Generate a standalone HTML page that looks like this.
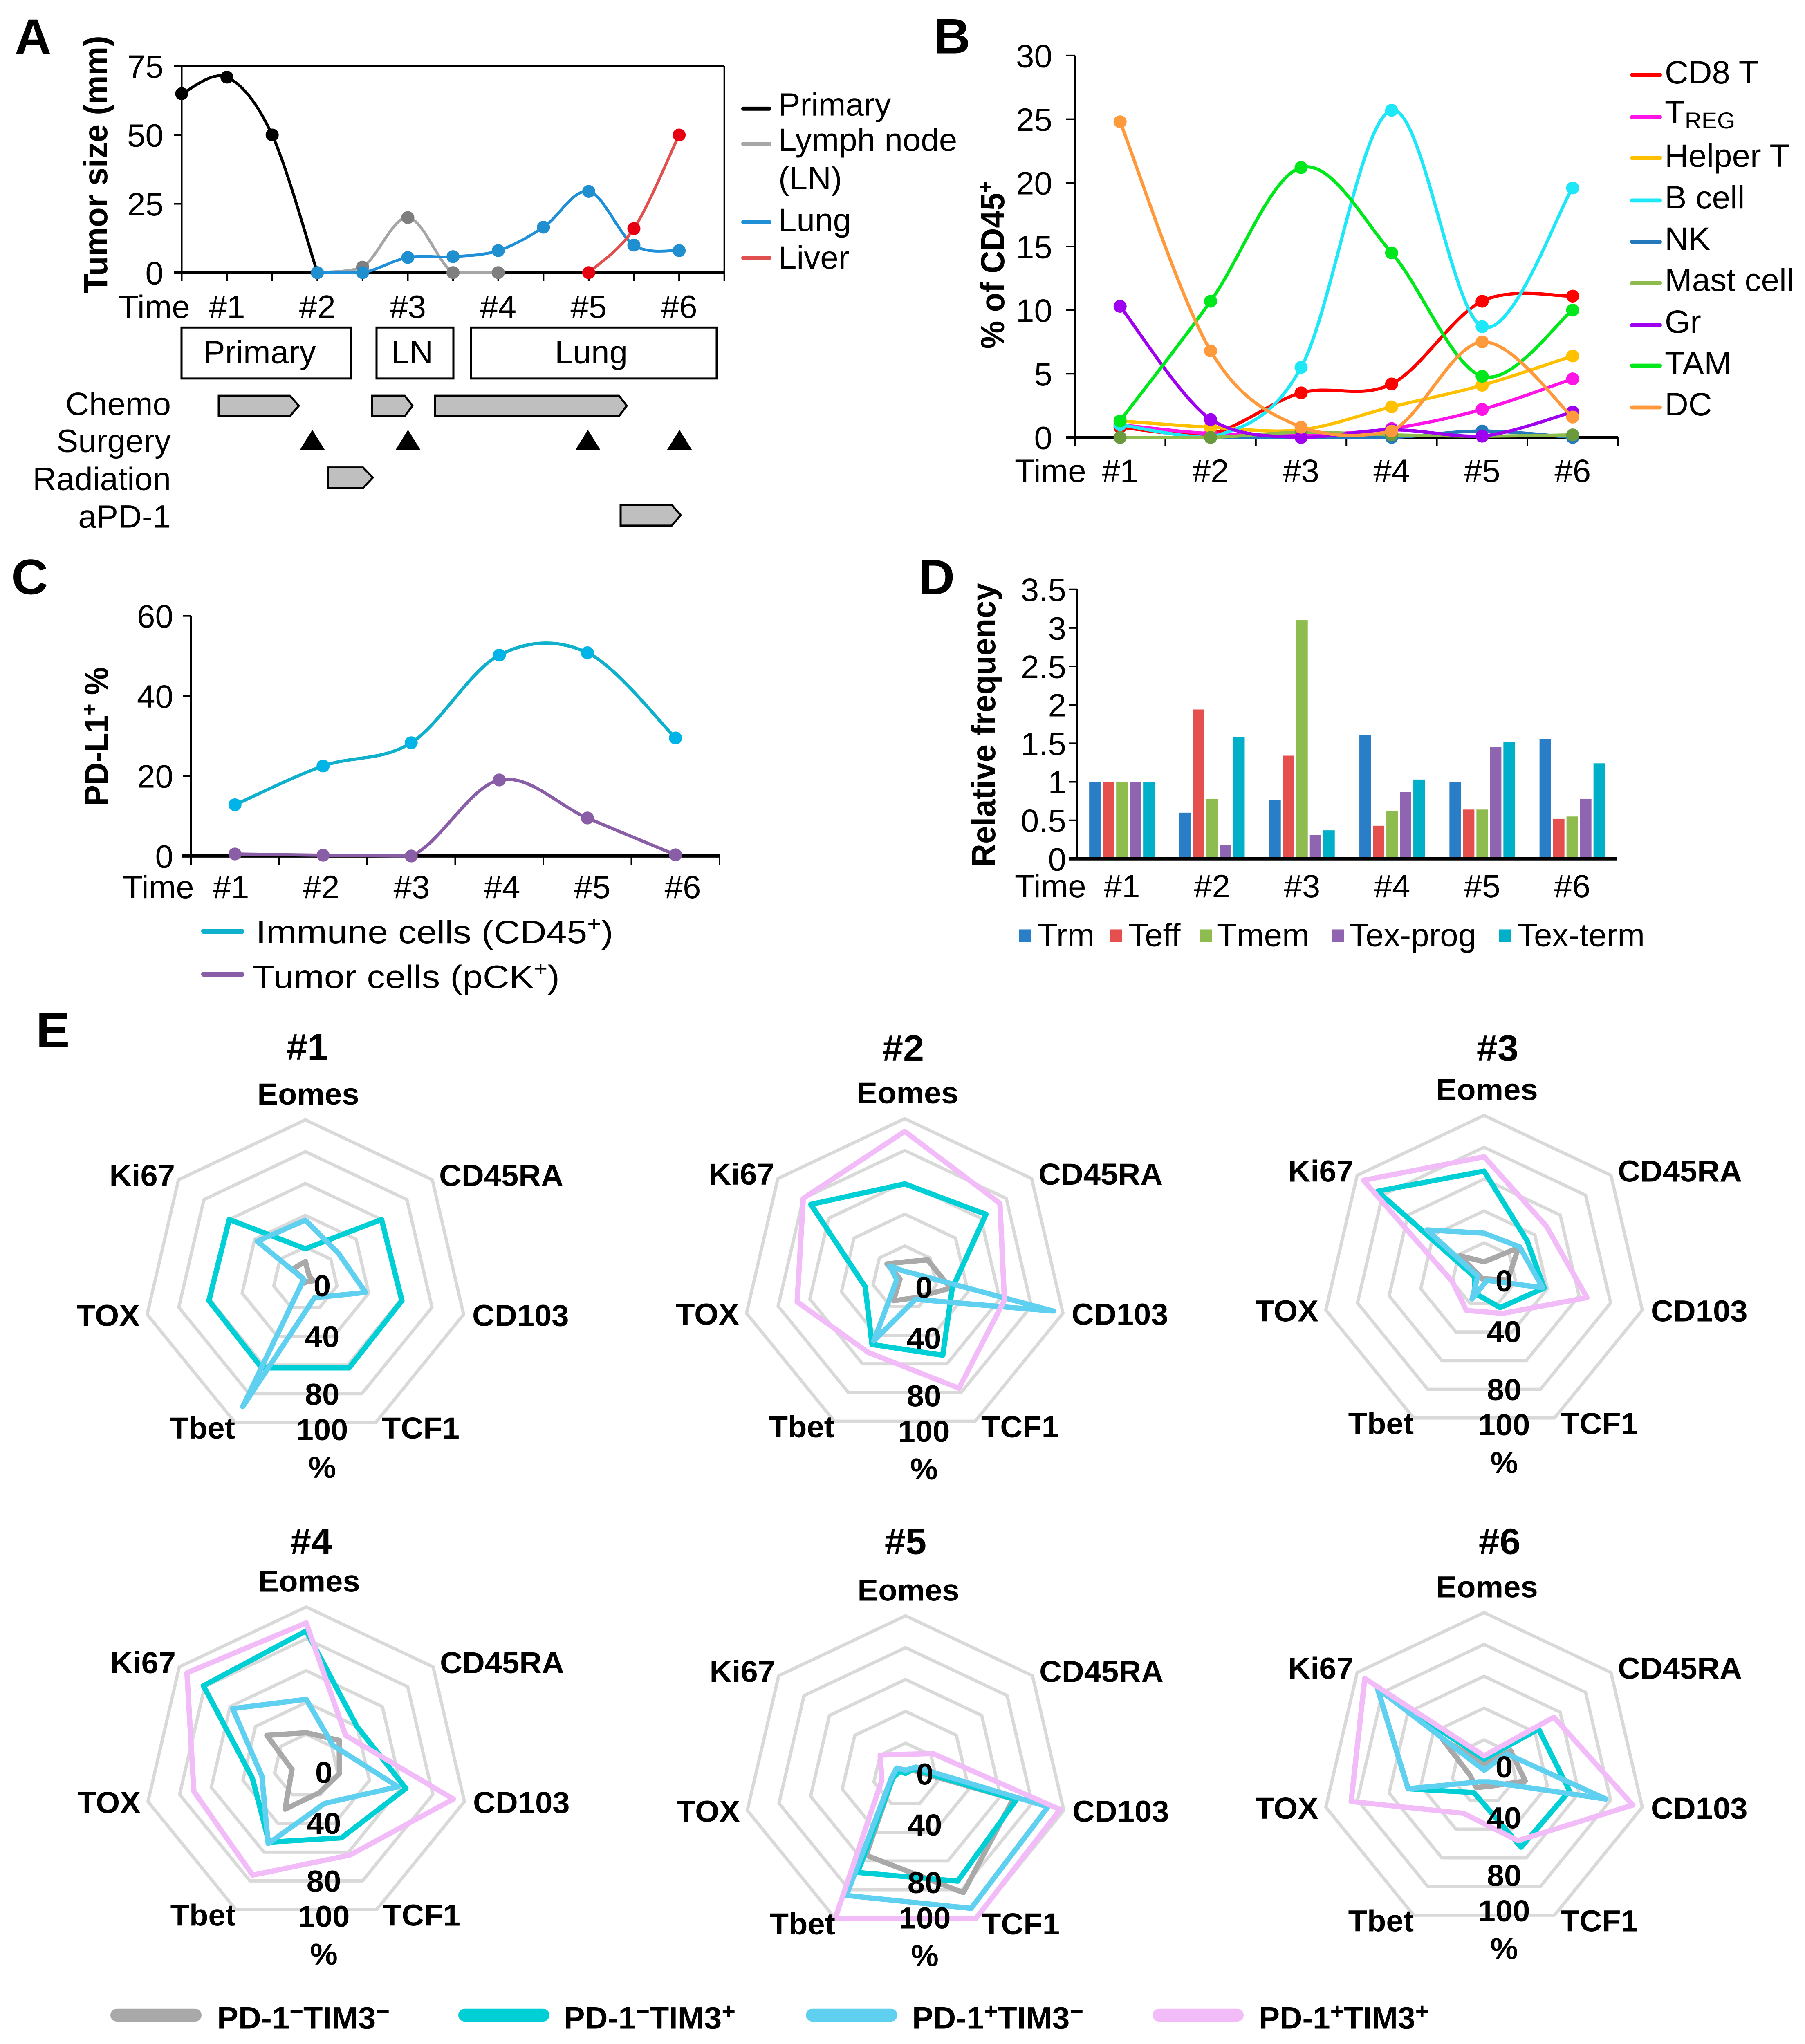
<!DOCTYPE html>
<html lang="en">
<head>
<meta charset="utf-8">
<title>Tumor, immune and T cell profiles over time</title>
<style>
html,body{margin:0;padding:0;background:#fff;width:100vw;height:100vh;overflow:hidden}
svg{display:block;position:absolute;left:0;top:0;width:100vw;height:100vh}
text{font-family:"Liberation Sans",Arial,sans-serif;fill:#000}
.t{font-size:80px}
.b{font-weight:bold}
.L{font-weight:bold;font-size:124px}
.r{text-anchor:end}
.m{text-anchor:middle}
</style>
</head>
<body>
<svg id="fig" xmlns="http://www.w3.org/2000/svg" viewBox="0 0 4415 5098" preserveAspectRatio="none">
<rect x="0" y="0" width="4415" height="5098" fill="#fff"/>

<text class="L" x="36" y="134">A</text>
<text class="L" x="2284" y="133">B</text>
<text class="L" x="28" y="1482">C</text>
<text class="L" x="2246" y="1482">D</text>
<text class="L" x="88" y="2612">E</text>

<!-- Panel A -->
<g id="panelA">
<text class="b" font-size="82" transform="translate(262,732) rotate(-90)" textLength="643" lengthAdjust="spacingAndGlyphs">Tumor size (mm)</text>
<text class="t" x="290" y="793">Time</text>
<g>
<line x1="1818" x2="1882" y1="271" y2="271" stroke="#000" stroke-width="10" stroke-linecap="round"/>
<text class="t" x="1904" y="288">Primary</text>
<line x1="1818" x2="1882" y1="359" y2="359" stroke="#a6a6a6" stroke-width="10" stroke-linecap="round"/>
<text class="t" x="1904" y="376">Lymph node</text>
<text class="t" x="1904" y="472">(LN)</text>
<line x1="1818" x2="1882" y1="554" y2="554" stroke="#1f8fd8" stroke-width="10" stroke-linecap="round"/>
<text class="t" x="1904" y="576">Lung</text>
<line x1="1818" x2="1882" y1="643" y2="643" stroke="#e0504e" stroke-width="10" stroke-linecap="round"/>
<text class="t" x="1904" y="670">Liver</text>
</g>
<g fill="none" stroke="#000" stroke-width="5">
<rect x="444" y="817" width="414" height="127"/>
<rect x="921" y="817" width="188" height="127"/>
<rect x="1152" y="817" width="601" height="127"/>
</g>
<text class="t m" x="635" y="906">Primary</text>
<text class="t m" x="1008" y="906">LN</text>
<text class="t m" x="1446" y="906">Lung</text>
<text class="t r" x="418" y="1035">Chemo</text>
<text class="t r" x="418" y="1127">Surgery</text>
<text class="t r" x="418" y="1222">Radiation</text>
<text class="t r" x="418" y="1316">aPD-1</text>
<g fill="#bfbfbf" stroke="#000" stroke-width="5">
<polygon points="535,987 709,987 731,1012 709,1038 535,1038"/>
<polygon points="910,987 990,987 1009,1012 990,1038 910,1038"/>
<polygon points="1064,987 1514,987 1533,1012 1514,1038 1064,1038"/>
<polygon points="802,1166 888,1166 912,1191 888,1217 802,1217"/>
<polygon points="1518,1259 1643,1259 1665,1285 1643,1311 1518,1311"/>
</g>
<g fill="#000">
<polygon points="764,1072 795,1123 733,1123"/>
<polygon points="998,1072 1029,1123 967,1123"/>
<polygon points="1438,1072 1469,1123 1407,1123"/>
<polygon points="1662,1072 1693,1123 1631,1123"/>
</g>
</g>

<!-- Panel B -->
<g id="panelB">
<text class="b" font-size="82" transform="translate(2456,870) rotate(-90)" textLength="418" lengthAdjust="spacingAndGlyphs">% of CD45<tspan font-size="52" dy="-28">+</tspan></text>
<text class="t" x="2482" y="1202">Time</text>
<g stroke-width="10" stroke-linecap="round">
<line x1="3992" x2="4060" y1="187" y2="187" stroke="#ff0000"/>
<text class="t" x="4072" y="208">CD8 T</text>
<line x1="3992" x2="4060" y1="292" y2="292" stroke="#ff14e8"/>
<text class="t" x="4072" y="308">T<tspan font-size="57" dy="12">REG</tspan></text>
<line x1="3992" x2="4060" y1="394" y2="394" stroke="#ffc000"/>
<text class="t" x="4072" y="416">Helper T</text>
<line x1="3992" x2="4060" y1="500" y2="500" stroke="#1ee8f8"/>
<text class="t" x="4072" y="520">B cell</text>
<line x1="3992" x2="4060" y1="603" y2="603" stroke="#2478bc"/>
<text class="t" x="4072" y="623">NK</text>
<line x1="3992" x2="4060" y1="706" y2="706" stroke="#8dbb4c"/>
<text class="t" x="4072" y="726">Mast cell</text>
<line x1="3992" x2="4060" y1="811" y2="811" stroke="#a000f0"/>
<text class="t" x="4072" y="830">Gr</text>
<line x1="3992" x2="4060" y1="912" y2="912" stroke="#00e81c"/>
<text class="t" x="4072" y="934">TAM</text>
<line x1="3992" x2="4060" y1="1016" y2="1016" stroke="#ff9a3c"/>
<text class="t" x="4072" y="1036">DC</text>
</g>
</g>

<!-- Panel C -->
<g id="panelC">
<text class="b" font-size="82" transform="translate(264,2010) rotate(-90)" textLength="346" lengthAdjust="spacingAndGlyphs">PD-L1<tspan font-size="52" dy="-28">+</tspan><tspan dy="28"> %</tspan></text>
<text class="t" x="300" y="2240">Time</text>
<line x1="498" x2="592" y1="2323" y2="2323" stroke="#0eb0cc" stroke-width="12" stroke-linecap="round"/>
<text class="t" x="626" y="2352" textLength="874" lengthAdjust="spacingAndGlyphs">Immune cells (CD45<tspan font-size="52" dy="-30">+</tspan><tspan dy="30">)</tspan></text>
<line x1="498" x2="592" y1="2430" y2="2430" stroke="#8a5ea6" stroke-width="12" stroke-linecap="round"/>
<text class="t" x="617" y="2464" textLength="752" lengthAdjust="spacingAndGlyphs">Tumor cells (pCK<tspan font-size="52" dy="-30">+</tspan><tspan dy="30">)</tspan></text>
</g>

<!-- Panel D -->
<g id="panelD">
<text class="b" font-size="82" transform="translate(2434,2162) rotate(-90)" textLength="708" lengthAdjust="spacingAndGlyphs">Relative frequency</text>
<text class="t" x="2482" y="2238">Time</text>
<g>
<rect x="2492" y="2318" width="30" height="32" fill="#2a7ec8"/>
<text class="t" x="2538" y="2360">Trm</text>
<rect x="2715" y="2318" width="30" height="32" fill="#e5504f"/>
<text class="t" x="2760" y="2360">Teff</text>
<rect x="2934" y="2318" width="30" height="32" fill="#8fbc4f"/>
<text class="t" x="2976" y="2360">Tmem</text>
<rect x="3258" y="2318" width="30" height="32" fill="#8f64b0"/>
<text class="t" x="3300" y="2360">Tex-prog</text>
<rect x="3666" y="2318" width="30" height="32" fill="#00b0c8"/>
<text class="t" x="3712" y="2360">Tex-term</text>
</g>
</g>

<!-- Panel E -->
<g id="panelE"></g>
<g>
<line x1="286" x2="477" y1="5026" y2="5026" stroke="#a9a9a9" stroke-width="32" stroke-linecap="round"/>
<text class="b" font-size="78" x="531" y="5060" textLength="422" lengthAdjust="spacingAndGlyphs">PD-1<tspan font-size="58" dy="-24">−</tspan><tspan dy="24">TIM3</tspan><tspan font-size="58" dy="-24">−</tspan></text>
<line x1="1137" x2="1328" y1="5026" y2="5026" stroke="#00d0d6" stroke-width="32" stroke-linecap="round"/>
<text class="b" font-size="78" x="1379" y="5060" textLength="420" lengthAdjust="spacingAndGlyphs">PD-1<tspan font-size="58" dy="-24">−</tspan><tspan dy="24">TIM3</tspan><tspan font-size="58" dy="-24">+</tspan></text>
<line x1="1987" x2="2179" y1="5026" y2="5026" stroke="#5fd0f0" stroke-width="32" stroke-linecap="round"/>
<text class="b" font-size="78" x="2231" y="5060" textLength="419" lengthAdjust="spacingAndGlyphs">PD-1<tspan font-size="58" dy="-24">+</tspan><tspan dy="24">TIM3</tspan><tspan font-size="58" dy="-24">−</tspan></text>
<line x1="2835" x2="3026" y1="5026" y2="5026" stroke="#f2bcf9" stroke-width="32" stroke-linecap="round"/>
<text class="b" font-size="78" x="3079" y="5060" textLength="416" lengthAdjust="spacingAndGlyphs">PD-1<tspan font-size="58" dy="-24">+</tspan><tspan dy="24">TIM3</tspan><tspan font-size="58" dy="-24">+</tspan></text>
</g>
</svg>

<script>
/* ---------- Panel A data ---------- */
const aTimeLabels = ['#1', '#2', '#3', '#4', '#5', '#6'];
const aYTicks = [0, 25, 50, 75];
const aPrimary = [65, 71, 50, 0, null, null, null, null, null, null, null, null];
const aLymphNode = [null, null, null, 0, 2, 20, 0, 0, null, null, null, null];
const aLung = [null, null, null, 0, 0, 5.5, 5.8, 8, 16.5, 29.5, 10, 8];
const aLiver = [null, null, null, null, null, null, null, null, null, 0, 16, 50];

/* ---------- Panel B data ---------- */
const bTimeLabels = ['#1', '#2', '#3', '#4', '#5', '#6'];
const bYTicks = [0, 5, 10, 15, 20, 25, 30];
const bCd8 = [0.8, 0.3, 3.5, 4.2, 10.7, 11.1];
const bTreg = [1.0, 0.3, 0.2, 0.7, 2.2, 4.6];
const bHelper = [1.3, 0.8, 0.6, 2.4, 4.1, 6.4];
const bBCell = [1.0, 0, 5.5, 25.7, 8.7, 19.6];
const bNk = [0, 0, 0, 0, 0.5, 0];
const bMast = [0, 0, 0.4, 0.2, 0.1, 0.2];
const bGr = [10.3, 1.4, 0, 0.6, 0.1, 2.0];
const bTam = [1.3, 10.7, 21.2, 14.5, 4.8, 10.0];
const bDc = [24.8, 6.8, 0.8, 0.5, 7.5, 1.6];

/* ---------- Panel C data ---------- */
const cTimeLabels = ['#1', '#2', '#3', '#4', '#5', '#6'];
const cYTicks = [0, 20, 40, 60];
const cImmune = [12.8, 22.5, 28.3, 50.2, 50.8, 29.5];
const cTumor = [0.5, 0.2, 0, 19, 9.5, 0.3];

/* ---------- Panel D data ---------- */
const dTimeLabels = ['#1', '#2', '#3', '#4', '#5', '#6'];
const dYTicks = ['0', '0.5', '1', '1.5', '2', '2.5', '3', '3.5'];
const dTrm = [1, 0.6, 0.76, 1.61, 1.0, 1.56];
const dTeff = [1, 1.94, 1.34, 0.43, 0.64, 0.52];
const dTmem = [1, 0.78, 3.1, 0.62, 0.64, 0.55];
const dTexProg = [1, 0.18, 0.31, 0.87, 1.45, 0.78];
const dTexTerm = [1, 1.58, 0.37, 1.03, 1.52, 1.24];

/* ---------- Panel E data: six radars, seven axes each (percent) ---------- */
const radarTitles = ['#1', '#2', '#3', '#4', '#5', '#6'];
const radarAxes = ['Eomes', 'CD45RA', 'CD103', 'TCF1', 'Tbet', 'TOX', 'Ki67'];
const radarTickLabels = ['0', '40', '80', '100', '%'];
const radarNegNeg = [
  [11, 3, 5, 2, 3, 1, 10],
  [10, 18, 29, 14, 16, 3, 14],
  [8, 27, 15, 3, 3, 3, 19],
  [21, 26, 21, 18.5, 30, 9, 31],
  [1, 5, 68, 82, 56, 8, 4],
  [5, 21, 26, 10, 11, 9, 33]
];
const radarNegPos = [
  [19, 60, 61, 62, 62, 61, 60],
  [59, 64, 30, 54, 46.5, 25, 74],
  [65, 34, 38, 23, 13, 6, 84],
  [85, 40, 63, 50, 53, 34, 81],
  [1, 6, 70, 74, 68, 8, 4],
  [8, 43, 54, 52.6, 14.5, 48, 84]
];
const radarPosNeg = [
  [37, 26, 38, 13, 89, 1, 38],
  [4, 5, 94, 15, 44, 5, 12],
  [26, 28, 37, 4, 17, 4, 45],
  [42, 21, 58, 26, 54, 28, 58],
  [3, 8, 90, 93, 84, 9, 7],
  [1, 18, 77, 7, 7, 48, 84]
];
const radarPosPos = [
  null,
  [92, 75, 63, 77, 52, 68, 80],
  [74, 49, 65, 27, 25, 20, 95],
  [90, 31, 93, 62, 76, 71, 94],
  [13, 21.6, 97.6, 100, 100, 15, 20],
  [10, 55, 94, 48, 29, 84, 94]
];

/* ---------- helpers ---------- */
const NS = 'http://www.w3.org/2000/svg';
function mk(parent, tag, props) {
  const el = document.createElementNS(NS, tag);
  for (const k in props) el.setAttribute(k, props[k]);
  parent.appendChild(el);
  return el;
}
function label(parent, x, y, str, anchor, size, bold) {
  const el = mk(parent, 'text', {x: x, y: y, 'text-anchor': anchor, 'font-size': size});
  if (bold) el.setAttribute('font-weight', 'bold');
  el.textContent = str;
  return el;
}
function smoothPath(pts, floorY) {
  let d = 'M' + pts[0][0] + ' ' + pts[0][1];
  for (let i = 0; i < pts.length - 1; i++) {
    const p0 = pts[Math.max(i - 1, 0)], p1 = pts[i], p2 = pts[i + 1], p3 = pts[Math.min(i + 2, pts.length - 1)];
    const c1y = Math.min(p1[1] + (p2[1] - p0[1]) / 6, floorY);
    const c2y = Math.min(p2[1] - (p3[1] - p1[1]) / 6, floorY);
    d += ' C' + (p1[0] + (p2[0] - p0[0]) / 6) + ' ' + c1y + ' ' +
      (p2[0] - (p3[0] - p1[0]) / 6) + ' ' + c2y + ' ' + p2[0] + ' ' + p2[1];
  }
  return d;
}
function drawSeries(parent, values, xFn, yFn, lineColor, markerColor, width, name) {
  const pts = [];
  values.forEach(function (v, i) { if (v !== null) pts.push([xFn(i), yFn(v)]); });
  const group = mk(parent, 'g', {});
  
  
  const path = mk(group, 'path', {d: smoothPath(pts, yFn(0)), fill: 'none', stroke: lineColor, 'stroke-width': width});
  
  
  pts.forEach(function (p) {
    const c = mk(group, 'circle', {cx: p[0], cy: p[1], r: 16, fill: markerColor});
    
    
  });
}

/* ---------- Panel A ---------- */
(function () {
  const g = document.getElementById('panelA');
  const xA = function (i) { return 444.5 + 110.6 * i; };
  const yA = function (v) { return 680 - 6.867 * v; };
  const frameRight = xA(12);
  const top = mk(g, 'line', {x1: 425, x2: frameRight, y1: yA(75), y2: yA(75), stroke: '#000', 'stroke-width': 5});
  
  
  const right = mk(g, 'line', {x1: frameRight, x2: frameRight, y1: yA(75), y2: 701, stroke: '#000', 'stroke-width': 4});
  
  
  const left = mk(g, 'line', {x1: xA(0), x2: xA(0), y1: yA(75), y2: 701, stroke: '#000', 'stroke-width': 4});
  
  
  const base = mk(g, 'line', {x1: 425, x2: frameRight, y1: yA(0), y2: yA(0), stroke: '#000', 'stroke-width': 8});
  
  
  for (let i = 1; i < 12; i++) {
    const tick = mk(g, 'line', {x1: xA(i), x2: xA(i), y1: yA(0), y2: 701, stroke: '#000', 'stroke-width': 4});
    
    
  }
  aYTicks.forEach(function (v) {
    const tick = mk(g, 'line', {x1: 425, x2: xA(0), y1: yA(v), y2: yA(v), stroke: '#000', 'stroke-width': 4});
    
    
    const t = label(g, 400, yA(v) + 29, String(v), 'end', 80, false);
    
    
  });
  aTimeLabels.forEach(function (s, i) {
    const t = label(g, xA(2 * i + 1), 793, s, 'middle', 80, false);
    
    
  });
  drawSeries(g, aPrimary, xA, yA, '#000', '#000', 7, 'primary');
  drawSeries(g, aLymphNode, xA, yA, '#a6a6a6', '#7f7f7f', 7, 'lymph-node');
  drawSeries(g, aLung, xA, yA, '#1f8fd8', '#1f8fd0', 7, 'lung');
  drawSeries(g, aLiver, xA, yA, '#e0504e', '#e60012', 7, 'liver');
})();

/* ---------- Panel B ---------- */
(function () {
  const g = document.getElementById('panelB');
  const x0 = 2629, step = 221.4;
  const xB = function (i) { return x0 + step * (i + 0.5); };
  const yB = function (v) { return 1091 - 31.75 * v; };
  const yAxis = mk(g, 'line', {x1: x0, x2: x0, y1: yB(30), y2: 1113, stroke: '#000', 'stroke-width': 4});
  
  
  const xAxis = mk(g, 'line', {x1: 2608, x2: x0 + 6 * step, y1: yB(0), y2: yB(0), stroke: '#000', 'stroke-width': 7});
  
  
  for (let i = 1; i <= 6; i++) {
    const tick = mk(g, 'line', {x1: x0 + step * i, x2: x0 + step * i, y1: yB(0), y2: 1113, stroke: '#000', 'stroke-width': 4});
    
    
  }
  bYTicks.forEach(function (v) {
    const tick = mk(g, 'line', {x1: 2608, x2: x0, y1: yB(v), y2: yB(v), stroke: '#000', 'stroke-width': 4});
    
    
    const t = label(g, 2574, yB(v) + 29, String(v), 'end', 80, false);
    
    
  });
  bTimeLabels.forEach(function (s, i) {
    const t = label(g, xB(i), 1202, s, 'middle', 80, false);
    
    
  });
  drawSeries(g, bCd8, xB, yB, '#ff0000', '#ff0000', 8, 'cd8-t');
  drawSeries(g, bTreg, xB, yB, '#ff14e8', '#ff14e8', 8, 'treg');
  drawSeries(g, bHelper, xB, yB, '#ffc000', '#ffc000', 8, 'helper-t');
  drawSeries(g, bBCell, xB, yB, '#1ee8f8', '#1ee8f8', 8, 'b-cell');
  drawSeries(g, bNk, xB, yB, '#2478bc', '#2478bc', 8, 'nk');
  drawSeries(g, bMast, xB, yB, '#8dbb4c', '#6b9a3c', 8, 'mast-cell');
  drawSeries(g, bGr, xB, yB, '#a000f0', '#a000f0', 8, 'gr');
  drawSeries(g, bTam, xB, yB, '#00e81c', '#00e81c', 8, 'tam');
  drawSeries(g, bDc, xB, yB, '#ff9a3c', '#ff9a3c', 8, 'dc');
})();

/* ---------- Panel C ---------- */
(function () {
  const g = document.getElementById('panelC');
  const x0 = 467, step = 215.5;
  const xC = function (i) { return x0 + step * (i + 0.5); };
  const yC = function (v) { return 2135 - 9.98 * v; };
  const yAxis = mk(g, 'line', {x1: x0, x2: x0, y1: yC(60), y2: 2158, stroke: '#000', 'stroke-width': 4});
  
  
  const xAxis = mk(g, 'line', {x1: 445, x2: x0 + 6 * step, y1: yC(0), y2: yC(0), stroke: '#000', 'stroke-width': 8});
  
  
  for (let i = 1; i <= 6; i++) {
    const tick = mk(g, 'line', {x1: x0 + step * i, x2: x0 + step * i, y1: yC(0), y2: 2158, stroke: '#000', 'stroke-width': 4});
    
    
  }
  cYTicks.forEach(function (v) {
    const tick = mk(g, 'line', {x1: 447, x2: x0, y1: yC(v), y2: yC(v), stroke: '#000', 'stroke-width': 4});
    
    
    const t = label(g, 424, yC(v) + 29, String(v), 'end', 80, false);
    
    
  });
  cTimeLabels.forEach(function (s, i) {
    const t = label(g, 565 + 221 * i, 2240, s, 'middle', 80, false);
    
    
  });
  drawSeries(g, cImmune, xC, yC, '#0eb0cc', '#00b4e8', 8, 'immune-cells');
  drawSeries(g, cTumor, xC, yC, '#8a5ea6', '#8a5ea6', 8, 'tumor-cells');
})();

/* ---------- Panel D ---------- */
(function () {
  const g = document.getElementById('panelD');
  const x0 = 2634, band = 220.3;
  const yD = function (v) { return 2142 - 192 * v; };
  const barStep = 33, barWidth = 28;
  const xD = function (cat, s) { return x0 + band * (cat + 0.5) + (s - 2.5) * barStep + (barStep - barWidth) / 2; };
  const series = [
    {values: dTrm, color: '#2a7ec8', name: 'trm'},
    {values: dTeff, color: '#e5504f', name: 'teff'},
    {values: dTmem, color: '#8fbc4f', name: 'tmem'},
    {values: dTexProg, color: '#8f64b0', name: 'tex-prog'},
    {values: dTexTerm, color: '#00b0c8', name: 'tex-term'}
  ];
  series.forEach(function (s, si) {
    s.values.forEach(function (v, ci) {
      const bar = mk(g, 'rect', {x: xD(ci, si), y: yD(v), width: barWidth, height: yD(0) - yD(v), fill: s.color});
      
      
    });
  });
  const yAxis = mk(g, 'line', {x1: x0, x2: x0, y1: yD(3.5), y2: yD(0), stroke: '#000', 'stroke-width': 4});
  
  
  const xAxis = mk(g, 'line', {x1: 2614, x2: x0 + 6 * band, y1: yD(0), y2: yD(0), stroke: '#000', 'stroke-width': 8});
  
  
  dYTicks.forEach(function (s) {
    const v = parseFloat(s);
    const tick = mk(g, 'line', {x1: 2614, x2: x0, y1: yD(v), y2: yD(v), stroke: '#000', 'stroke-width': 4});
    
    
    const t = label(g, 2608, yD(v) + 29, s, 'end', 80, false);
    
    
  });
  dTimeLabels.forEach(function (s, i) {
    const t = label(g, x0 + band * (i + 0.5), 2238, s, 'middle', 80, false);
    
    
  });
})();

/* ---------- Panel E ---------- */
(function () {
  const root = document.getElementById('panelE');
  const R = 397;
  const layout = [
    {cx: 747, cy: 3190, titleX: 752, titleY: 2643, tickX: 788, tickY: 3233},
    {cx: 2213, cy: 3187, titleX: 2209, titleY: 2646, tickX: 2260, tickY: 3237},
    {cx: 3630, cy: 3179, titleX: 3663, titleY: 2646, tickX: 3679, tickY: 3221},
    {cx: 749, cy: 4405, titleX: 761, titleY: 3876, tickX: 792, tickY: 4447},
    {cx: 2215, cy: 4427, titleX: 2215, titleY: 3876, tickX: 2262, tickY: 4451},
    {cx: 3630, cy: 4419, titleX: 3668, titleY: 3876, tickX: 3679, tickY: 4433}
  ];
  const tickOffsets = [0, 127, 271, 359, 453];
  const axisLabelPlacement = [
    {dx: 7, dy: -435, anchor: 'middle'},
    {dx: 327, dy: -232, anchor: 'start'},
    {dx: 408, dy: 117, anchor: 'start'},
    {dx: 187, dy: 398, anchor: 'start'},
    {dx: -172, dy: 398, anchor: 'end'},
    {dx: -405, dy: 117, anchor: 'end'},
    {dx: -319, dy: -232, anchor: 'end'}
  ];
  const styles = [
    {rows: radarNegNeg, color: '#a9a9a9', name: 'pd1-neg-tim3-neg'},
    {rows: radarNegPos, color: '#00d0d6', name: 'pd1-neg-tim3-pos'},
    {rows: radarPosNeg, color: '#5fd0f0', name: 'pd1-pos-tim3-neg'},
    {rows: radarPosPos, color: '#f2bcf9', name: 'pd1-pos-tim3-pos'}
  ];
  radarTitles.forEach(function (title, p) {
    const L = layout[p];
    const pt = function (axis, v) {
      const a = axis * 2 * Math.PI / 7;
      return (L.cx + R * v / 100 * Math.sin(a)) + ',' + (L.cy - R * v / 100 * Math.cos(a));
    };
    const g = mk(root, 'g', {});
    
    
    const titleEl = label(g, L.titleX, L.titleY, title, 'middle', 92, true);
    
    
    [20, 40, 60, 80, 100].forEach(function (ring) {
      const poly = mk(g, 'polygon', {points: radarAxes.map(function (_, a) { return pt(a, ring); }).join(' '),
        fill: 'none', stroke: '#d9d9d9', 'stroke-width': 8, 'stroke-linejoin': 'round'});
      
      
    });
    styles.forEach(function (s) {
      const row = s.rows[p];
      if (!row) return;
      const poly = mk(g, 'polygon', {points: row.map(function (v, a) { return pt(a, v); }).join(' '),
        fill: 'none', stroke: s.color, 'stroke-width': 13, 'stroke-linejoin': 'round'});
      
      
    });
    radarAxes.forEach(function (name, a) {
      const pl = axisLabelPlacement[a];
      const t = label(g, L.cx + pl.dx, L.cy + pl.dy, name, pl.anchor, 76, true);
      
      
    });
    radarTickLabels.forEach(function (s, i) {
      const t = label(g, L.tickX, L.tickY + tickOffsets[i], s, 'middle', 76, true);
      
      
    });
  });
})();
</script>
</body>
</html>
